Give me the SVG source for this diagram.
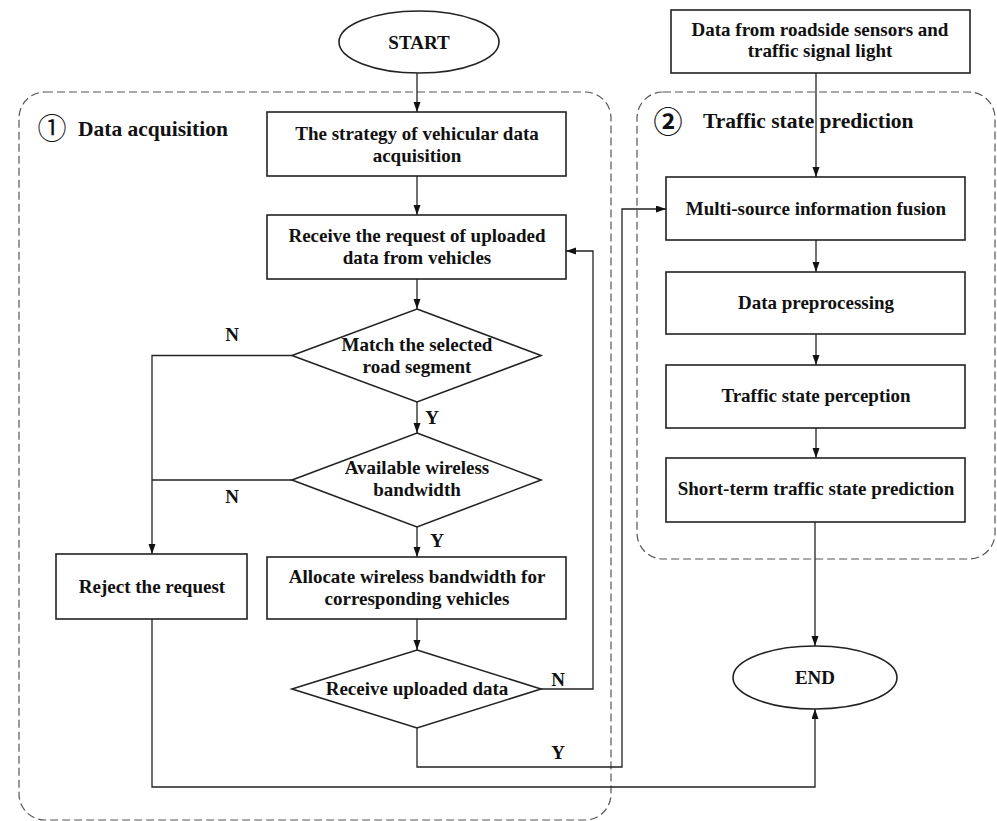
<svg xmlns="http://www.w3.org/2000/svg" width="997" height="821" viewBox="0 0 997 821">
<style>
  .box{fill:#fff;stroke:#222;stroke-width:1.6}
  .grp{fill:none;stroke:#555;stroke-width:1.2;stroke-dasharray:8,4}
  .t{font-family:"Liberation Serif","Times New Roman",serif;font-weight:bold;font-size:19px;fill:#111;text-anchor:middle}
  .h{font-family:"Liberation Serif","Times New Roman",serif;font-weight:bold;font-size:21.5px;fill:#111}
  .c{font-family:"Noto Sans CJK SC","DejaVu Sans",sans-serif;font-size:29px;fill:#111;text-anchor:middle}
  .ln{fill:none;stroke:#222;stroke-width:1.3}
</style>
<defs>
  <marker id="ah" markerUnits="userSpaceOnUse" markerWidth="10" markerHeight="8" refX="10" refY="3.5" orient="auto">
    <path d="M0,0 L10,3.5 L0,7 z" fill="#111"/>
  </marker>
</defs>
<rect width="997" height="821" fill="#fff"/>

<g id="group1">
  <rect class="grp" x="19" y="92" width="592" height="728" rx="26" ry="26"/>
  <text class="c" x="52" y="139">①</text>
  <text class="h" x="78" y="136">Data acquisition</text>
</g>
<g id="group2">
  <rect class="grp" x="637" y="92" width="358" height="467" rx="26" ry="26"/>
  <text class="c" x="668" y="133" font-weight="bold">②</text>
  <text class="h" x="703" y="128">Traffic state prediction</text>
</g>

<g id="connectors">
  <path class="ln" d="M417,73 V112" marker-end="url(#ah)"/>
  <path class="ln" d="M417,176 V215" marker-end="url(#ah)"/>
  <path class="ln" d="M417,279 V309" marker-end="url(#ah)"/>
  <path class="ln" d="M417,402 V433" marker-end="url(#ah)"/>
  <path class="ln" d="M417,527 V557" marker-end="url(#ah)"/>
  <path class="ln" d="M417,619 V650" marker-end="url(#ah)"/>
  <path class="ln" d="M292,355.5 H152 V554" marker-end="url(#ah)"/>
  <path class="ln" d="M292,480 H152"/>
  <path class="ln" d="M541,689 H593 V251 H566" marker-end="url(#ah)"/>
  <path class="ln" d="M417,728 V767 H622 V209 H666" marker-end="url(#ah)"/>
  <path class="ln" d="M152,619 V787 H815 V709" marker-end="url(#ah)"/>
  <path class="ln" d="M816,73 V177" marker-end="url(#ah)"/>
  <path class="ln" d="M816,240 V272" marker-end="url(#ah)"/>
  <path class="ln" d="M816,334 V365" marker-end="url(#ah)"/>
  <path class="ln" d="M816,428 V458" marker-end="url(#ah)"/>
  <path class="ln" d="M815,522 V646" marker-end="url(#ah)"/>
  <text class="t" x="232" y="341">N</text>
  <text class="t" x="232" y="503">N</text>
  <text class="t" x="432" y="424">Y</text>
  <text class="t" x="437" y="547">Y</text>
  <text class="t" x="558" y="686">N</text>
  <text class="t" x="558" y="759">Y</text>
</g>

<g id="start">
  <ellipse cx="419" cy="42" rx="80" ry="31" fill="#fff" stroke="#222" stroke-width="1.6"/>
  <text class="t" x="419" y="49">START</text>
</g>
<g id="strategy">
  <rect class="box" x="267" y="112" width="299" height="64"/>
  <text class="t" x="417" y="140">The strategy of vehicular data</text>
  <text class="t" x="417" y="162">acquisition</text>
</g>
<g id="receive-request">
  <rect class="box" x="267" y="215" width="299" height="64"/>
  <text class="t" x="417" y="242">Receive the request of uploaded</text>
  <text class="t" x="417" y="264">data from vehicles</text>
</g>
<g id="match">
  <polygon class="box" points="417,309 541,355.5 417,402 292,355.5"/>
  <text class="t" x="417" y="351">Match the selected</text>
  <text class="t" x="417" y="373">road segment</text>
</g>
<g id="available">
  <polygon class="box" points="417,433 541,480 417,527 292,480"/>
  <text class="t" x="417" y="474">Available wireless</text>
  <text class="t" x="417" y="496">bandwidth</text>
</g>
<g id="reject">
  <rect class="box" x="56" y="554" width="191" height="65"/>
  <text class="t" x="152" y="593">Reject the request</text>
</g>
<g id="allocate">
  <rect class="box" x="267" y="557" width="299" height="62"/>
  <text class="t" x="417" y="583">Allocate wireless bandwidth for</text>
  <text class="t" x="417" y="605">corresponding vehicles</text>
</g>
<g id="receive-data">
  <polygon class="box" points="417,650 541,689 417,728 292,689"/>
  <text class="t" x="417" y="695">Receive uploaded data</text>
</g>
<g id="sensors">
  <rect class="box" x="671" y="10" width="299" height="63"/>
  <text class="t" x="820" y="36">Data from roadside sensors and</text>
  <text class="t" x="820" y="57">traffic signal light</text>
</g>
<g id="fusion">
  <rect class="box" x="666" y="177" width="299" height="63"/>
  <text class="t" x="816" y="215">Multi-source information fusion</text>
</g>
<g id="preprocessing">
  <rect class="box" x="666" y="272" width="299" height="62"/>
  <text class="t" x="816" y="309">Data preprocessing</text>
</g>
<g id="perception">
  <rect class="box" x="666" y="365" width="299" height="63"/>
  <text class="t" x="816" y="402">Traffic state perception</text>
</g>
<g id="short-term">
  <rect class="box" x="666" y="458" width="299" height="64"/>
  <text class="t" x="816" y="495">Short-term traffic state prediction</text>
</g>
<g id="end">
  <ellipse cx="815" cy="677.5" rx="82" ry="31.5" fill="#fff" stroke="#222" stroke-width="1.6"/>
  <text class="t" x="815" y="684">END</text>
</g>
</svg>
